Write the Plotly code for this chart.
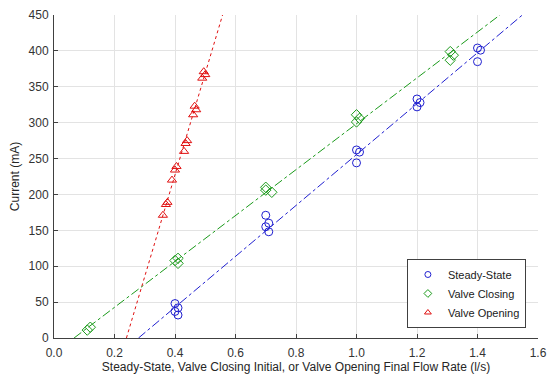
import numpy as np
import plotly.graph_objects as go

# Steady-State data
ss_x = [0.40, 0.41, 0.40, 0.41, 0.70, 0.71, 0.70, 0.71, 1.00, 1.01, 1.00, 1.20, 1.21, 1.20, 1.40, 1.41, 1.40]
ss_y = [48, 42, 37, 32, 171, 160, 155, 148, 262, 259, 244, 333, 328, 322, 404, 401, 385]

# Valve Closing data
vc_x = [0.12, 0.11, 0.41, 0.40, 0.41, 0.70, 0.72, 0.70, 1.00, 1.01, 1.00, 1.31, 1.32, 1.31]
vc_y = [15, 11, 111, 108, 104, 210, 203, 206, 311, 306, 301, 399, 394, 387]

# Valve Opening data
vo_x = [0.36, 0.37, 0.375, 0.39, 0.40, 0.405, 0.43, 0.435, 0.44, 0.46, 0.47, 0.465, 0.49, 0.50, 0.495]
vo_y = [171, 186, 189, 220, 234, 239, 260, 271, 275, 311, 318, 323, 362, 367, 371]

series = [
    ("Steady-State", ss_x, ss_y, "#1f1fd0", "circle-open", "dashdot"),
    ("Valve Closing", vc_x, vc_y, "#1a9a1a", "diamond-open", "dashdot"),
    ("Valve Opening", vo_x, vo_y, "#e01010", "triangle-up-open", "dot"),
]

FONT = "Liberation Sans, Arial"
fig = go.Figure()
for name, xs, ys, col, sym, dash in series:
    m, b = np.polyfit(xs, ys, 1)
    yl = np.array([0.0, 450.0])
    xl = (yl - b) / m
    fig.add_trace(go.Scatter(x=xl, y=yl, mode="lines", showlegend=False,
                             line=dict(color=col, width=1, dash=dash), hoverinfo="skip"))
for name, xs, ys, col, sym, dash in series:
    fig.add_trace(go.Scatter(x=xs, y=ys, mode="markers", name=name, showlegend=False,
                             marker=dict(symbol=sym, size=8, color=col, line=dict(width=1, color=col))))
# legend-only entries with smaller markers
for name, xs, ys, col, sym, dash in series:
    fig.add_trace(go.Scatter(x=[None], y=[None], mode="markers", name=name,
                             marker=dict(symbol=sym, size=6, color=col, line=dict(width=1, color=col))))

axis_common = dict(showgrid=True, gridcolor="#e3e3e3", gridwidth=1, zeroline=False,
                   showline=True, linecolor="#404040", linewidth=1,
                   ticks="inside", ticklen=4, tickcolor="#404040", automargin=False,
                   tickfont=dict(family=FONT, size=12, color="#333333"))

fig.update_xaxes(range=[0, 1.6], dtick=0.2, tick0=0, tickformat=".1f", ticklabelstandoff=4,
                 title=dict(text="Steady-State, Valve Closing Initial, or Valve Opening Final Flow Rate (l/s)",
                            font=dict(family=FONT, size=12, color="#262626"), standoff=2),
                 **axis_common)
fig.update_yaxes(range=[0, 450], dtick=50, tick0=0, ticklabelstandoff=2,
                 title=dict(text="Current (mA)",
                            font=dict(family=FONT, size=12, color="#262626"), standoff=6),
                 **axis_common)

fig.update_layout(
    width=550, height=374,
    margin=dict(l=54, r=12, t=15, b=36),
    paper_bgcolor="white", plot_bgcolor="white",
    legend=dict(x=0.975, y=0.031, xanchor="right", yanchor="bottom",
                bgcolor="white", bordercolor="#404040", borderwidth=1,
                font=dict(family=FONT, size=11, color="#1a1a1a"),
                tracegroupgap=0, itemwidth=30),
    showlegend=True,
)

fig.write_html("out.html")
